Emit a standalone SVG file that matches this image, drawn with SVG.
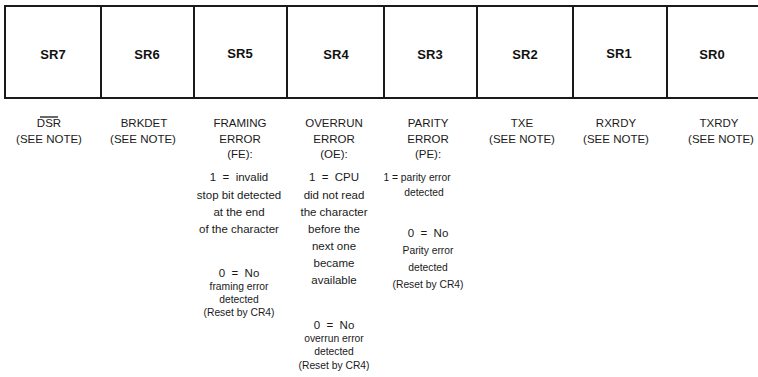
<svg xmlns="http://www.w3.org/2000/svg" width="758" height="377" viewBox="0 0 758 377">
<style>
.frame{fill:none;stroke:#1a1a1a;stroke-width:2}
.lbl{font-family:"Liberation Sans",Arial,sans-serif;font-weight:bold;font-size:13px;fill:#111;text-anchor:middle}
.t{font-family:"Liberation Sans",Arial,sans-serif;font-size:11.5px;fill:#1a1a1a;text-anchor:middle}
.s{font-family:"Liberation Sans",Arial,sans-serif;font-size:10.3px;fill:#1a1a1a;text-anchor:middle}
</style>
<rect width="758" height="377" fill="#fff"/>
<g id="register">
<path class="frame" d="M758 6H5V98H758"/>
<g id="SR7"><line class="frame" x1="5" y1="6" x2="5" y2="98"/><text class="lbl" x="53" y="59">SR7</text></g>
<g id="SR6"><line class="frame" x1="101" y1="6" x2="101" y2="98"/><text class="lbl" x="147" y="59">SR6</text></g>
<g id="SR5"><line class="frame" x1="194" y1="6" x2="194" y2="98"/><text class="lbl" x="240" y="58">SR5</text></g>
<g id="SR4"><line class="frame" x1="287" y1="6" x2="287" y2="98"/><text class="lbl" x="336" y="59">SR4</text></g>
<g id="SR3"><line class="frame" x1="384" y1="6" x2="384" y2="98"/><text class="lbl" x="430" y="59">SR3</text></g>
<g id="SR2"><line class="frame" x1="477" y1="6" x2="477" y2="98"/><text class="lbl" x="525" y="59">SR2</text></g>
<g id="SR1"><line class="frame" x1="573" y1="6" x2="573" y2="98"/><text class="lbl" x="619" y="58">SR1</text></g>
<g id="SR0"><line class="frame" x1="667" y1="6" x2="667" y2="98"/><text class="lbl" x="712" y="59">SR0</text></g>
</g>
<g id="desc7">
<line x1="40" y1="117" x2="58" y2="117" stroke="#1a1a1a" stroke-width="1.3"/>
<text class="t" x="49" y="127">DSR</text>
<text class="t" x="49" y="143">(SEE NOTE)</text>
</g>
<g id="desc6">
<text class="t" x="144" y="127">BRKDET</text>
<text class="t" x="143" y="143">(SEE NOTE)</text>
</g>
<g id="desc5">
<text class="t" x="240" y="127">FRAMING</text>
<text class="t" x="240" y="143">ERROR</text>
<text class="t" x="240" y="158">(FE):</text>
<text class="t" x="239" y="181" xml:space="preserve">1  =  invalid</text>
<text class="t" x="239" y="199">stop bit detected</text>
<text class="t" x="239" y="216">at the end</text>
<text class="t" x="239" y="233">of the character</text>
<text class="t" x="239" y="277" xml:space="preserve">0  =  No</text>
<text class="s" x="239" y="290">framing error</text>
<text class="s" x="239" y="303">detected</text>
<text class="s" x="239" y="316">(Reset by CR4)</text>
</g>
<g id="desc4">
<text class="t" x="334" y="127">OVERRUN</text>
<text class="t" x="334" y="143">ERROR</text>
<text class="t" x="334" y="158">(OE):</text>
<text class="t" x="334" y="181" xml:space="preserve">1  =  CPU</text>
<text class="t" x="334" y="199">did not read</text>
<text class="t" x="334" y="216">the character</text>
<text class="t" x="334" y="233">before the</text>
<text class="t" x="334" y="250">next one</text>
<text class="t" x="334" y="267">became</text>
<text class="t" x="334" y="284">available</text>
<text class="t" x="334" y="329" xml:space="preserve">0  =  No</text>
<text class="s" x="334" y="342">overrun error</text>
<text class="s" x="334" y="355">detected</text>
<text class="s" x="334" y="369">(Reset by CR4)</text>
</g>
<g id="desc3">
<text class="t" x="428" y="127">PARITY</text>
<text class="t" x="428" y="143">ERROR</text>
<text class="t" x="428" y="158">(PE):</text>
<text class="s" x="417" y="181">1 = parity error</text>
<text class="s" x="424" y="196">detected</text>
<text class="t" x="428" y="237" xml:space="preserve">0  =  No</text>
<text class="s" x="428" y="254">Parity error</text>
<text class="s" x="428" y="271">detected</text>
<text class="s" x="428" y="288">(Reset by CR4)</text>
</g>
<g id="desc2">
<text class="t" x="522" y="127">TXE</text>
<text class="t" x="522" y="143">(SEE NOTE)</text>
</g>
<g id="desc1">
<text class="t" x="616" y="127">RXRDY</text>
<text class="t" x="616" y="143">(SEE NOTE)</text>
</g>
<g id="desc0">
<text class="t" x="719" y="127">TXRDY</text>
<text class="t" x="721" y="143">(SEE NOTE)</text>
</g>
</svg>
